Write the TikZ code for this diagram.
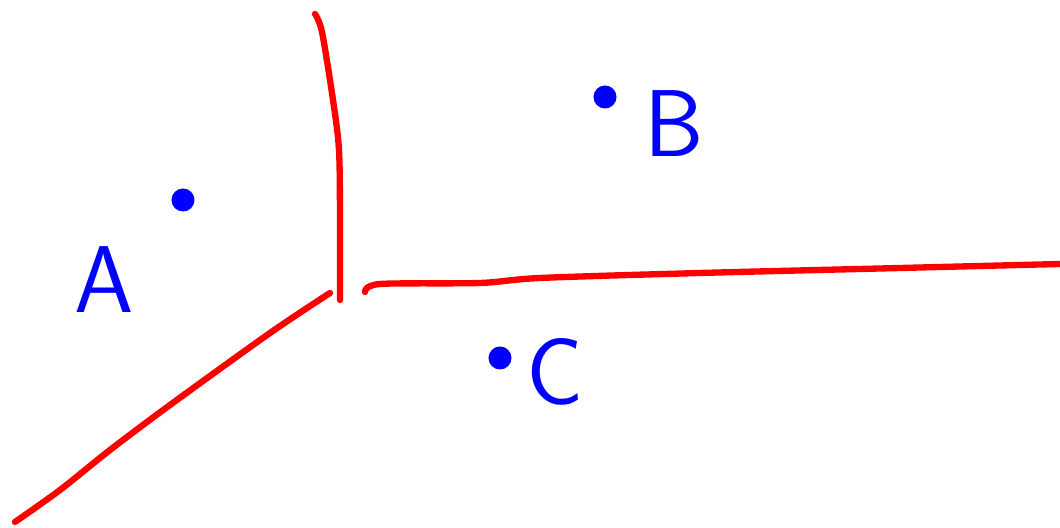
\documentclass[tikz,border=0pt]{standalone}
\usetikzlibrary{positioning}

\begin{document}
\begin{tikzpicture}[
  x=0.01cm, y=-0.01cm,
  wall/.style={draw=red, line width=1.8pt, line cap=round, line join=round},
  site/.style={circle, fill=blue, inner sep=0pt, minimum size=2.3mm},
  lbl/.style={text=blue, font=\fontsize{27}{30}\selectfont\sffamily, inner sep=0pt}
]
\useasboundingbox (0,0) rectangle (1060,528);

% borders between the regions
\draw[wall] plot[smooth] coordinates {(315,14) (322,32) (333,100) (339,150) (340,220) (340,300)};
\draw[wall] plot[smooth] coordinates {(365,292) (380,284) (480,283) (540,278) (700,273) (900,268) (1060,264)};
\draw[wall] plot[smooth] coordinates {(330,293) (270,333) (170,405) (110,450) (60,490) (15,522)};

% sites
\node[site] (dotA) at (183,200) {};
\node[site] (dotB) at (605,97) {};
\node[site] (dotC) at (500,358) {};

\node[lbl] (labA) at (104,280) {A};
\node[lbl] (labB) at (674,124) {B};
\node[lbl] (labC) at (555,372) {C};

\end{tikzpicture}
\end{document}
